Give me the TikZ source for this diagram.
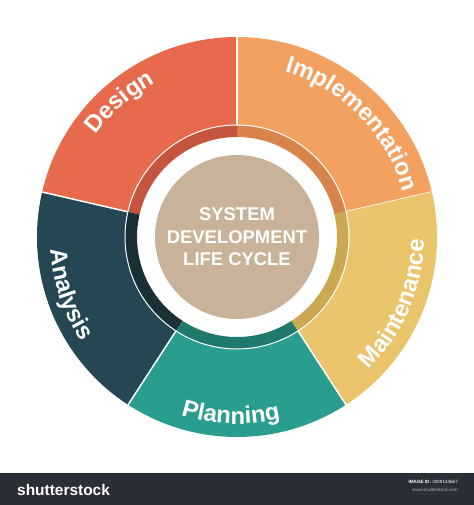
\documentclass[tikz,border=0pt]{standalone}
\usepackage{fontspec}
\setmainfont{Liberation Sans}
\usetikzlibrary{decorations.text}
\definecolor{impl}{HTML}{F3A160}
\definecolor{impldk}{HTML}{D9834C}
\definecolor{design}{HTML}{E76A4C}
\definecolor{designdk}{HTML}{C6553F}
\definecolor{analysis}{HTML}{254653}
\definecolor{analysisdk}{HTML}{1B2F37}
\definecolor{planning}{HTML}{299D8E}
\definecolor{planningdk}{HTML}{1F7A6B}
\definecolor{maint}{HTML}{E9C46A}
\definecolor{maintdk}{HTML}{CCA853}
\definecolor{core}{HTML}{C8B29A}
\definecolor{bar}{HTML}{2B2E35}
\newcommand\segfont{\bfseries\fontsize{24}{24}\selectfont}

\begin{document}
\begin{tikzpicture}[x=1bp, y=1bp,
  seglabel/.style={decorate, decoration={text along path, text align=center,
    text color=white, text={|\segfont|#1}}}]
  \useasboundingbox (-237,-268) rectangle (237,237);
  % wheel segments: start/end/colour/band colour
  \foreach \a/\b/\c/\d in {13/90/impl/impldk, 90/167/design/designdk, 167/237/analysis/analysisdk,
                           237/303/planning/planningdk, 303/373/maint/maintdk} {
    \fill[\c] (\a:200) arc[start angle=\a, end angle=\b, radius=200] -- (\b:112)
      arc[start angle=\b, end angle=\a, radius=112] -- cycle;
    \fill[\d] (\a:112) arc[start angle=\a, end angle=\b, radius=112] -- (\b:100)
      arc[start angle=\b, end angle=\a, radius=100] -- cycle;
    \draw[white, line width=1.5bp] (\a:112) -- (\a:200);
  }
  \draw[white, line width=1bp] (0,0) circle[radius=112];
  \node[circle, fill=core, minimum size=164bp, inner sep=0pt, text=white, align=center,
    font=\bfseries\fontsize{18.5}{22.5}\selectfont] (sdlc) at (0,0) {SYSTEM\\DEVELOPMENT\\LIFE CYCLE};
  % labels along the rim
  \path[seglabel=Design] (171:174) arc[start angle=171, end angle=91, radius=174];
  \path[seglabel=Implementation] (95:172) arc[start angle=95, end angle=-6, radius=172];
  \path[seglabel=Maintenance] (-78:187) arc[start angle=-78, end angle=32, radius=187];
  \path[seglabel=Planning] (-142:187) arc[start angle=-142, end angle=-42, radius=187];
  \path[seglabel=Analysis] (149:187) arc[start angle=149, end angle=249, radius=187];
  % footer bar
  \fill[bar] (-237,-236) rectangle (237,-268);
  \node[anchor=west, inner sep=0pt, text=white, font=\bfseries\fontsize{15.5}{15.5}\selectfont] (brand) at (-220,-253) {shutterstock};
  \node[anchor=east, inner sep=0pt, text=white, font=\fontsize{4.6}{5}\selectfont] (imgid) at (221,-245) {\textbf{IMAGE ID:} 2009143667};
  \node[anchor=east, inner sep=0pt, text=gray!60, font=\fontsize{4.6}{5}\selectfont] (site) at (221,-253) {www.shutterstock.com};
\end{tikzpicture}
\end{document}
